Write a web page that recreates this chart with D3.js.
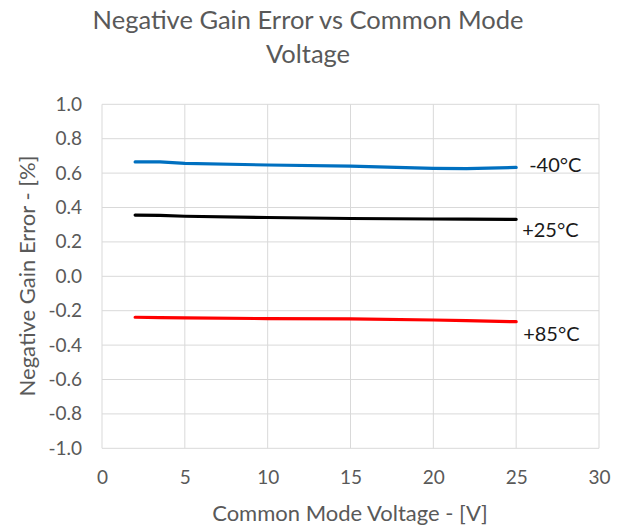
<!DOCTYPE html>
<html><head><meta charset="utf-8">
<script src="https://cdn.jsdelivr.net/npm/d3@7"></script>
<style>body{margin:0;background:#fff;} svg{display:block;} text{font-family:Lato, "Open Sans", sans-serif;}</style>
</head><body>
<svg id="c" width="623" height="531"></svg>
<script>
const xValues = [2, 3.5, 5, 10, 15, 20, 22, 25];
const seriesMinus40 = [0.665, 0.665, 0.657, 0.647, 0.640, 0.627, 0.626, 0.633];
const seriesPlus25 = [0.356, 0.354, 0.349, 0.342, 0.336, 0.333, 0.332, 0.331];
const seriesPlus85 = [-0.238, -0.240, -0.242, -0.246, -0.248, -0.254, -0.258, -0.264];
const seriesNames = ["-40°C", "+25°C", "+85°C"];
const seriesColors = ["#0070c0", "#000000", "#ff0000"];
const xTicks = [0, 5, 10, 15, 20, 25, 30];
const yTicks = [1.0, 0.8, 0.6, 0.4, 0.2, 0.0, -0.2, -0.4, -0.6, -0.8, -1.0];
const titleLines = ["Negative Gain Error vs Common Mode", "Voltage"];
const xTitle = "Common Mode Voltage - [V]";
const yTitle = "Negative Gain Error - [%]";

const svg = d3.select("#c");
const m = {l: 102, r: 599, t: 104.3, b: 448.3};
const x = d3.scaleLinear().domain([0, 30]).range([m.l, m.r]);
const y = d3.scaleLinear().domain([-1, 1]).range([m.b, m.t]);
const grid = "#d9d9d9", txt = "#595959";

// gridlines
svg.append("g").selectAll("line").data(yTicks).join("line")
  .attr("x1", m.l).attr("x2", m.r).attr("y1", d => y(d)).attr("y2", d => y(d))
  .attr("stroke", grid).attr("stroke-width", 1);
svg.append("g").selectAll("line").data(xTicks).join("line")
  .attr("y1", m.t).attr("y2", m.b).attr("x1", d => x(d)).attr("x2", d => x(d))
  .attr("stroke", grid).attr("stroke-width", 1);

// axes
const fmtY = d => d3.format(".1f")(d).replace("\u2212", "-");
const xAxis = svg.append("g").attr("transform", `translate(0,${m.b})`)
  .call(d3.axisBottom(x).tickValues(xTicks).tickSize(0).tickPadding(22).tickFormat(d3.format("d")));
const yAxis = svg.append("g").attr("transform", `translate(${m.l},0)`)
  .call(d3.axisLeft(y).tickValues(yTicks).tickSize(0).tickPadding(20).tickFormat(fmtY));
[xAxis, yAxis].forEach(a => {
  a.select(".domain").remove();
  a.selectAll("text").attr("fill", txt).style("font-size", "19px").style("font-family", "Lato, sans-serif");
});

// lines
const series = [seriesMinus40, seriesPlus25, seriesPlus85];
const line = d3.line().x((d, i) => x(xValues[i])).y(d => y(d));
series.forEach((s, k) => {
  svg.append("path").datum(s).attr("d", line).attr("fill", "none")
    .attr("stroke", seriesColors[k]).attr("stroke-width", 3.2)
    .attr("stroke-linecap", "round").attr("stroke-linejoin", "round");
});

// data labels
const labelDx = [13, 6, 7];
const labelDy = [-2, 11, 12];
series.forEach((s, k) => {
  const last = s.length - 1;
  svg.append("text").attr("x", x(xValues[last]) + labelDx[k]).attr("y", y(s[last]) + labelDy[k])
    .attr("dy", "0.35em").attr("fill", "#1a1a1a").style("font-size", "20px").text(seriesNames[k]);
});

// titles
svg.append("g").selectAll("text").data(titleLines).join("text")
  .attr("x", 308).attr("y", (d, i) => 29 + i * 34).attr("text-anchor", "middle")
  .attr("fill", txt).style("font-size", "25.5px").text(d => d);
svg.append("text").attr("x", 350).attr("y", 513).attr("dy", "0.35em").attr("text-anchor", "middle")
  .attr("fill", txt).style("font-size", "22px").text(xTitle);
svg.append("text").attr("transform", "translate(27,276) rotate(-90)").attr("dy", "0.35em")
  .attr("text-anchor", "middle").attr("fill", txt).style("font-size", "22px").text(yTitle);
</script>
</body></html>
